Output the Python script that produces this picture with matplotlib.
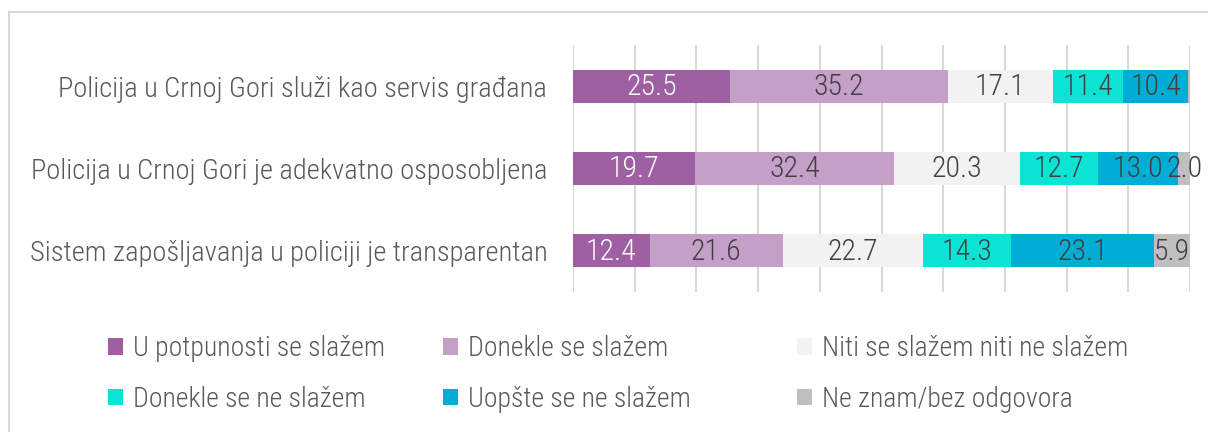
import numpy as np
import matplotlib
matplotlib.use("Agg")
from matplotlib import pyplot as plt
from matplotlib.patches import Rectangle

plt.rcParams['font.family'] = ['Roboto Condensed', 'DejaVu Sans']
plt.rcParams['font.weight'] = 300

# data
categories = ["Policija u Crnoj Gori služi kao servis građana",
              "Policija u Crnoj Gori je adekvatno osposobljena",
              "Sistem zapošljavanja u policiji je transparentan"]
series = ["U potpunosti se slažem", "Donekle se slažem", "Niti se slažem niti ne slažem",
          "Donekle se ne slažem", "Uopšte se ne slažem", "Ne znam/bez odgovora"]
potpuno = [25.5, 19.7, 12.4]
donekle = [35.2, 32.4, 21.6]
niti = [17.1, 20.3, 22.7]
donekle_ne = [11.4, 12.7, 14.3]
uopste_ne = [10.4, 13.0, 23.1]
ne_znam = [0.4, 2.0, 5.9]

values = [potpuno, donekle, niti, donekle_ne, uopste_ne, ne_znam]
colors = ["#9e5fa3", "#c49fc8", "#f2f2f2", "#0be3d5", "#00add4", "#bfbfbf"]
txtcol = ["white", "#404040", "#404040", "#404040", "#404040", "#404040"]

W, H = 1208, 432
fig = plt.figure(figsize=(W / 100, H / 100), dpi=100)
# outer frame (runs off the right and bottom edge)
fig.patches.append(Rectangle((9 / W, -0.1), 1.2, 1 - 12 / H + 0.1, transform=fig.transFigure,
                             fill=False, edgecolor="#d9d9d9", linewidth=1.5))

ax = fig.add_axes([573 / W, 1 - 292 / H, 617 / W, 247 / H])
y = np.arange(len(categories))
left = np.zeros(len(categories))
handles = []
for vals, col, tc, name in zip(values, colors, txtcol, series):
    vals = np.array(vals)
    bars = ax.barh(y, vals, left=left, height=0.4, color=col, label=name, zorder=2)
    handles.append(bars)
    for b, v in zip(bars, vals):
        if v >= 1:
            ax.text(b.get_x() + b.get_width() / 2, b.get_y() + b.get_height() / 2 + 0.01, "%.1f" % v,
                    ha="center", va="center", color=tc, fontsize=21.5, zorder=3)
    left += vals

ax.set_xlim(0, 100)
ax.set_ylim(2.5, -0.5)
ax.set_xticks(np.arange(0, 101, 10))
ax.grid(axis="x", color="#d9d9d9", linewidth=1.5, zorder=0)
ax.tick_params(length=0, labelbottom=False)
ax.set_yticks(y)
ax.set_yticklabels(categories, fontsize=20.5, color="#595959")
ax.tick_params(axis="y", pad=18.5)
for s in ax.spines.values():
    s.set_visible(False)

# legend: three columns, filled row by row
col_x = [108, 443, 797]
for c in range(3):
    idx = [c, c + 3]
    leg = fig.legend([handles[i] for i in idx], [series[i] for i in idx],
                     loc="center left", bbox_to_anchor=(col_x[c] / W, 1 - 374 / H),
                     frameon=False, fontsize=20, labelcolor="#595959",
                     handlelength=0.55, handleheight=0.55, handletextpad=0.35,
                     labelspacing=0.85, borderpad=0, borderaxespad=0)

fig.savefig("out.png")
